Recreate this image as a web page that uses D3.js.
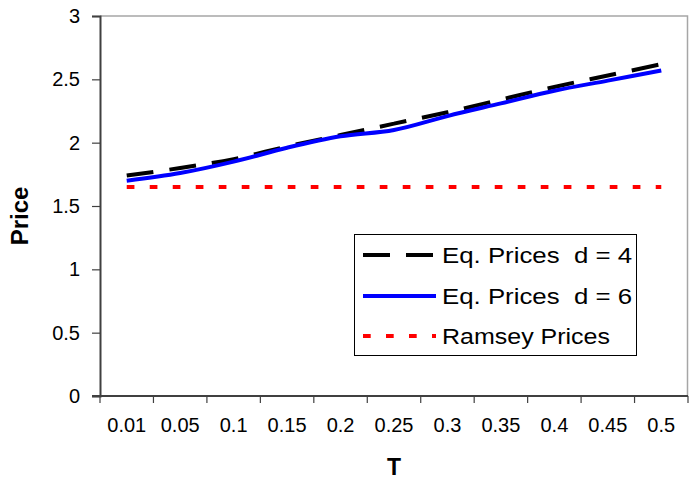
<!DOCTYPE html>
<html>
<head>
<meta charset="utf-8">
<script src="https://cdn.jsdelivr.net/npm/d3@7/dist/d3.min.js"></script>
<style>
  html, body { margin: 0; padding: 0; background: #fff; }
  svg { display: block; font-family: "Liberation Sans", Arial, sans-serif; }
</style>
</head>
<body>
<svg id="chart" width="689" height="479"></svg>
<script>
// Tax rate categories on the x axis
const categories = ["0.01", "0.05", "0.1", "0.15", "0.2", "0.25", "0.3", "0.35", "0.4", "0.45", "0.5"];
// Equilibrium prices with d = 4
const eqPricesD4 = [1.74, 1.80, 1.87, 1.97, 2.06, 2.15, 2.24, 2.34, 2.44, 2.53, 2.62];
// Equilibrium prices with d = 6
const eqPricesD6 = [1.70, 1.76, 1.85, 1.96, 2.05, 2.10, 2.21, 2.31, 2.41, 2.49, 2.57];
// Ramsey prices
const ramseyPrices = [1.65, 1.65, 1.65, 1.65, 1.65, 1.65, 1.65, 1.65, 1.65, 1.65, 1.65];
const yTicks = [0, 0.5, 1, 1.5, 2, 2.5, 3];

const svg = d3.select("#chart");
const plot = { left: 100, right: 688, top: 16, bottom: 396 };

const x = d3.scaleBand().domain(categories).range([plot.left, plot.right]).padding(0);
const y = d3.scaleLinear().domain([0, 3]).range([plot.bottom, plot.top]);
const cx = c => x(c) + x.bandwidth() / 2;

// Plot frame (top and right edges)
svg.append("path")
  .attr("d", `M${plot.left},${plot.top}H${plot.right - 0.5}V${plot.bottom}`)
  .attr("fill", "none").attr("stroke", "#a6a6a6").attr("stroke-width", 1.5);

// Y axis
const yAxis = svg.append("g").attr("transform", `translate(${plot.left},0)`)
  .call(d3.axisLeft(y).tickValues(yTicks).tickFormat(d3.format("")).tickSize(8).tickPadding(12));
yAxis.select(".domain").attr("stroke", "#404040").attr("stroke-width", 2);
yAxis.selectAll(".tick line").attr("stroke", "#404040").attr("stroke-width", 1.2);
yAxis.selectAll(".tick text").attr("font-size", 20).attr("fill", "#000")
  .attr("font-family", "Liberation Sans, Arial, sans-serif");

// X axis: ticks sit between categories
const xAxis = svg.append("g").attr("transform", `translate(0,${plot.bottom})`)
  .call(d3.axisBottom(x).tickSize(0).tickPadding(22));
xAxis.select(".domain").remove();
xAxis.selectAll(".tick text").attr("font-size", 20).attr("fill", "#000")
  .attr("font-family", "Liberation Sans, Arial, sans-serif");
svg.append("line")
  .attr("x1", plot.left - 8).attr("x2", plot.right)
  .attr("y1", plot.bottom).attr("y2", plot.bottom)
  .attr("stroke", "#404040").attr("stroke-width", 2);
const boundaries = categories.map(c => x(c)).concat([plot.right]);
svg.append("g").selectAll("line").data(boundaries).join("line")
  .attr("x1", d => d).attr("x2", d => d)
  .attr("y1", plot.bottom).attr("y2", plot.bottom + 7)
  .attr("stroke", "#404040").attr("stroke-width", 1.2);

// Axis titles
svg.append("text").text("Price")
  .attr("transform", `translate(28,${(plot.top + plot.bottom) / 2 + 10}) rotate(-90)`)
  .attr("text-anchor", "middle").attr("font-weight", "bold").attr("font-size", 24);
svg.append("text").text("T")
  .attr("x", (plot.left + plot.right) / 2).attr("y", 475)
  .attr("text-anchor", "middle").attr("font-weight", "bold").attr("font-size", 23);

// Series
const series = [
  { name: "Eq. Prices  d = 4", values: eqPricesD4, color: "#000000", width: 4, dash: "27,16", curve: d3.curveCatmullRom, textWidth: 190 },
  { name: "Eq. Prices  d = 6", values: eqPricesD6, color: "#0000ff", width: 4, dash: null, curve: d3.curveCatmullRom, textWidth: 190 },
  { name: "Ramsey Prices", values: ramseyPrices, color: "#ff0000", width: 4, dash: "7.7,15.3", curve: d3.curveLinear, textWidth: 168 }
];

series.forEach(s => {
  const line = d3.line().x((d, i) => cx(categories[i])).y(d => y(d)).curve(s.curve);
  svg.append("path").datum(s.values)
    .attr("d", line)
    .attr("fill", "none")
    .attr("stroke", s.color)
    .attr("stroke-width", s.width)
    .attr("stroke-dasharray", s.dash);
});

// Legend
const legend = svg.append("g");
legend.append("rect")
  .attr("x", 354.5).attr("y", 234.5).attr("width", 282).attr("height", 121)
  .attr("fill", "#fff").attr("stroke", "#000").attr("stroke-width", 1);
const rowY = [255, 296, 336];
series.forEach((s, i) => {
  legend.append("line")
    .attr("x1", 363).attr("x2", 436)
    .attr("y1", rowY[i]).attr("y2", rowY[i])
    .attr("stroke", s.color).attr("stroke-width", s.width)
    .attr("stroke-dasharray", s.dash);
  legend.append("text").text(s.name)
    .attr("x", 442).attr("y", rowY[i]).attr("dy", "0.36em")
    .attr("font-size", 22)
    .attr("textLength", s.textWidth).attr("lengthAdjust", "spacingAndGlyphs")
    .style("white-space", "pre");
});
</script>
</body>
</html>
